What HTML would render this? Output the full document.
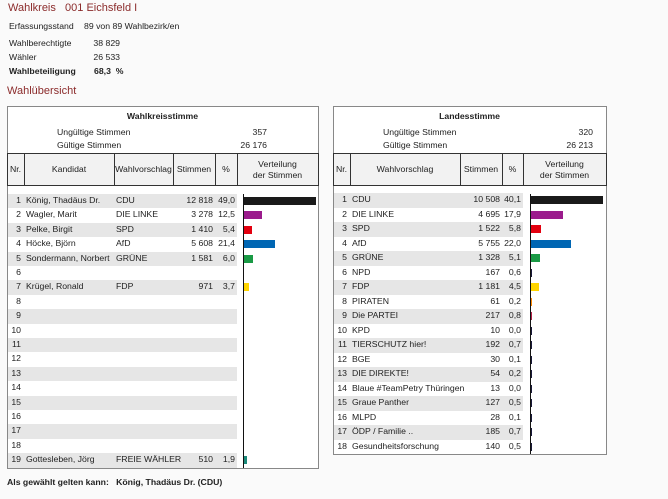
<!DOCTYPE html>
<html><head><meta charset="utf-8"><style>
body{margin:0;width:668px;height:499px;background:#fafafa;font-family:"Liberation Sans",sans-serif;font-size:8.7px;color:#222;position:relative;overflow:hidden}
.a{position:absolute;white-space:nowrap}
.r{text-align:right}
.c{text-align:center}
.box{position:absolute;border:1px solid #888;background:#fff}
.hd{position:absolute;border:1px solid #333;background:#f2f2f2}
.vl{position:absolute;width:1px;background:#333}
</style></head><body>
<div class="a" style="left:8px;top:2px;font-size:11px;color:#8b2b2b">Wahlkreis &nbsp;&nbsp;001 Eichsfeld I</div>
<div class="a" style="left:9px;top:21px">Erfassungsstand</div><div class="a" style="left:84px;top:21px">89 von 89 Wahlbezirk/en</div>
<div class="a" style="left:9px;top:38px">Wahlberechtigte</div><div class="a r" style="left:80px;top:38px;width:40px">38 829</div>
<div class="a" style="left:9px;top:52px">Wähler</div><div class="a r" style="left:80px;top:52px;width:40px">26 533</div>
<div class="a" style="left:9px;top:66px;font-weight:bold">Wahlbeteiligung</div><div class="a" style="left:94px;top:66px;font-weight:bold">68,3 &nbsp;%</div>
<div class="a" style="left:7px;top:85px;font-size:11px;color:#8b2b2b">Wahlübersicht</div>

<div class="box" style="left:7px;top:106px;width:310px;height:361px"></div>
<div class="box" style="left:333px;top:106px;width:272px;height:347px"></div>
<div id="root"></div>
<div class="a" style="left:7px;top:477px;font-weight:bold">Als gewählt gelten kann: &nbsp;&nbsp;König, Thadäus Dr. (CDU)</div>
<script>
var h='';
function t(x,y,s,cls,w,st){h+='<div class="a '+(cls||'')+'" style="left:'+x+'px;top:'+y+'px;'+(w?'width:'+w+'px;':'')+(st||'')+'">'+s+'</div>';}
function panel(L,R,title,ung,gue,cols,labels,axis,barMax,rows,y0,pitch,stripeR,bottom,candidates){
 t(L,111,title,'c',R-L,'font-weight:bold');
 t(L+50,127,'Ungültige Stimmen');t(L+50,140,'Gültige Stimmen');
 t(L+200,127,ung,'r',60);t(L+200,140,gue,'r',60);
 h+='<div class="hd" style="left:'+L+'px;top:153px;width:'+(R-L-1)+'px;height:31px"></div>';
 for(var i=1;i<cols.length-1;i++)h+='<div class="vl" style="left:'+cols[i]+'px;top:153px;height:32px"></div>';
 for(var i=0;i<labels.length;i++){var l=labels[i];t(cols[i],l.indexOf('<br>')>0?159:164,l,'c',cols[i+1]-cols[i],'line-height:11px');}
 h+='<div class="vl" style="left:'+axis+'px;top:194px;height:'+(bottom-194)+'px;background:#111"></div>';
 var mx=rows[0][4];
 rows.forEach(function(r,i){var y=y0+i*pitch;
  if(i%2==0)h+='<div class="a" style="left:'+(L+1)+'px;top:'+(y-7)+'px;width:'+(stripeR-L-1)+'px;height:'+pitch+'px;background:#e6e6e6"></div>';
  t(L+2,y-6,r[0],'r',12);
  if(candidates){t(L+19,y-6,r[1]);t(cols[2]+2,y-6,r[2]);}else t(L+19,y-6,r[1]);
  t(cols[cols.length-4]-10,y-6,r[3],'r',cols[cols.length-3]-cols[cols.length-4]+8);
  t(cols[cols.length-3]-2,y-6,r[4]!==''?r[4].toFixed(1).replace('.',','):'','r',cols[cols.length-2]-cols[cols.length-3]);
  if(r[4]!==''){var w=Math.max(1,r[4]/mx*barMax);h+='<div class="a" style="left:'+(axis+1)+'px;top:'+(y-4)+'px;width:'+w+'px;height:8px;background:'+r[5]+'"></div>';}
 });
}
var N='#1a1a3a';
var lr=[[1,'König, Thadäus Dr.','CDU','12 818',49.0,'#1a1a1a'],[2,'Wagler, Marit','DIE LINKE','3 278',12.5,'#9b1b8c'],[3,'Pelke, Birgit','SPD','1 410',5.4,'#e3000f'],[4,'Höcke, Björn','AfD','5 608',21.4,'#0066b3'],[5,'Sondermann, Norbert','GRÜNE','1 581',6.0,'#1a9a45'],[6,'','','',''],[7,'Krügel, Ronald','FDP','971',3.7,'#ffd500']];
for(var i=8;i<=18;i++)lr.push([i,'','','','']);
lr.push([19,'Gottesleben, Jörg','FREIE WÄHLER','510',1.9,'#1b8a7a']);
panel(7,318,'Wahlkreisstimme','357','26 176',[7,24,114,173,215,237,318],['Nr.','Kandidat','Wahlvorschlag','Stimmen','%','Verteilung<br>der Stimmen'],243,72,lr,201,14.4,237,468,true);
var rr=[[1,'CDU','','10 508',40.1,'#1a1a1a'],[2,'DIE LINKE','','4 695',17.9,'#9b1b8c'],[3,'SPD','','1 522',5.8,'#e3000f'],[4,'AfD','','5 755',22.0,'#0066b3'],[5,'GRÜNE','','1 328',5.1,'#1a9a45'],[6,'NPD','','167',0.6,N],[7,'FDP','','1 181',4.5,'#ffd500'],[8,'PIRATEN','','61',0.2,'#f80'],[9,'Die PARTEI','','217',0.8,'#b5224a'],[10,'KPD','','10',0.0,N],[11,'TIERSCHUTZ hier!','','192',0.7,N],[12,'BGE','','30',0.1,N],[13,'DIE DIREKTE!','','54',0.2,N],[14,'Blaue #TeamPetry Thüringen','','13',0.0,N],[15,'Graue Panther','','127',0.5,N],[16,'MLPD','','28',0.1,N],[17,'ÖDP / Familie ..','','185',0.7,N],[18,'Gesundheitsforschung','','140',0.5,N]];
panel(333,606,'Landesstimme','320','26 213',[333,350,460,502,523,606],['Nr.','Wahlvorschlag','Stimmen','%','Verteilung<br>der Stimmen'],530,72,rr,200,14.5,523,454,false);
document.getElementById('root').innerHTML=h;
</script>
</body></html>
